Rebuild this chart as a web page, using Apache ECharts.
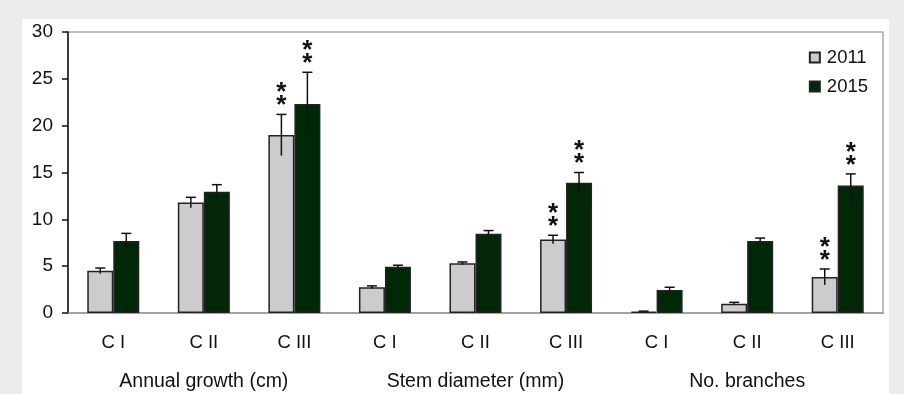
<!DOCTYPE html>
<html>
<head>
<meta charset="utf-8">
<script src="https://cdn.jsdelivr.net/npm/echarts@6/dist/echarts.min.js"></script>
<style>
  html, body { margin: 0; padding: 0; background: #ececec; }
  #panel { position: absolute; left: 22px; top: 19px; width: 867px; height: 375px; background: #fff; }
  #chart { position: absolute; left: 0; top: 0; width: 904px; height: 394px; }
</style>
</head>
<body>
<div id="panel"></div>
<div id="chart"></div>
<script>
// categories
const classes = ["C I", "C II", "C III", "C I", "C II", "C III", "C I", "C II", "C III"];
const groups = ["Annual growth (cm)", "Stem diameter (mm)", "No. branches"];

// means
const mean2011 = [4.5, 11.8, 19.0, 2.75, 5.3, 7.85, 0.15, 1.0, 3.85];
const mean2015 = [7.7, 12.95, 22.3, 4.95, 8.45, 13.9, 2.45, 7.7, 13.6];

// error (half length)
const err2011 = [0.3, 0.55, 2.2, 0.15, 0.15, 0.45, 0.05, 0.14, 0.85];
const err2015 = [0.8, 0.75, 3.4, 0.15, 0.35, 1.1, 0.3, 0.3, 1.25];

// significance marks (** above bar)
const sig2011 = [0, 0, 1, 0, 0, 1, 0, 0, 1];
const sig2015 = [0, 0, 1, 0, 0, 1, 0, 0, 1];

const BAR_W = 26;

function errData(mean, err) {
  return mean.map((m, i) => [i, m, err[i]]);
}
function sigData(mean, err, sig) {
  return mean.map((m, i) => [i, m + err[i], sig[i]]).filter(d => d[2]);
}

function errRender(offset) {
  return function (params, api) {
    const x = api.value(0);
    const hi = api.coord([x, api.value(1) + api.value(2)]);
    const lo = api.coord([x, api.value(1) - api.value(2)]);
    const cx = hi[0] + offset;
    const style = { stroke: "#111", lineWidth: 1.5 };
    return {
      type: "group",
      children: [
        { type: "line", shape: { x1: cx, y1: hi[1], x2: cx, y2: lo[1] }, style: style },
        { type: "line", shape: { x1: cx - 5, y1: hi[1], x2: cx + 5, y2: hi[1] }, style: style }
      ]
    };
  };
}

function sigRender(offset) {
  return function (params, api) {
    const p = api.coord([api.value(0), api.value(1)]);
    return {
      type: "text",
      x: p[0] + offset,
      y: p[1] - 2,
      style: {
        text: "*\n*",
        font: "bold 26px 'Liberation Sans', Arial, sans-serif",
        lineHeight: 13,
        fill: "#111",
        align: "center",
        verticalAlign: "bottom"
      }
    };
  };
}

const chart = echarts.init(document.getElementById("chart"));

chart.setOption({
  backgroundColor: "transparent",
  textStyle: { fontFamily: "'Liberation Sans', Arial, sans-serif" },
  grid: {
    left: 68, right: 21, top: 32, bottom: 81,
    show: true, borderColor: "#a8a8a8", borderWidth: 1.5, backgroundColor: "#fff"
  },
  legend: {
    orient: "vertical",
    right: 31,
    top: 43,
    itemWidth: 10,
    itemHeight: 10,
    itemGap: 10,
    icon: "rect",
    textStyle: { fontSize: 18.5, color: "#111", padding: [0, 0, 0, 2] },
    data: ["2011", "2015"]
  },
  xAxis: [
    {
      type: "category",
      data: classes,
      axisLine: { lineStyle: { color: "#999", width: 1.5 } },
      axisTick: { show: false },
      axisLabel: { fontSize: 18.5, color: "#111", margin: 20 }
    },
    {
      type: "category",
      data: groups,
      position: "bottom",
      offset: 40,
      axisLine: { show: false },
      axisTick: { show: false },
      axisLabel: { fontSize: 19.5, color: "#111", margin: 19 }
    }
  ],
  yAxis: {
    type: "value",
    min: 0,
    max: 30,
    interval: 5,
    splitLine: { show: false },
    axisLine: { show: true, lineStyle: { color: "#111", width: 1.5 } },
    axisTick: { show: true, length: 6, lineStyle: { color: "#111", width: 1.5 } },
    axisLabel: { fontSize: 19, color: "#111", margin: 15 }
  },
  series: [
    {
      name: "2011",
      type: "bar",
      data: mean2011,
      barWidth: BAR_W,
      barGap: "0%",
      itemStyle: { color: "#cccccc", borderColor: "#222", borderWidth: 1.5 }
    },
    {
      name: "2015",
      type: "bar",
      data: mean2015,
      barWidth: BAR_W,
      barGap: "0%",
      itemStyle: { color: "#002806", borderColor: "#222", borderWidth: 1.5 }
    },
    {
      type: "custom",
      renderItem: errRender(-BAR_W / 2),
      data: errData(mean2011, err2011),
      z: 5,
      silent: true
    },
    {
      type: "custom",
      renderItem: errRender(BAR_W / 2),
      data: errData(mean2015, err2015),
      z: 5,
      silent: true
    },
    {
      type: "custom",
      renderItem: sigRender(-BAR_W / 2),
      data: sigData(mean2011, err2011, sig2011),
      z: 5,
      silent: true
    },
    {
      type: "custom",
      renderItem: sigRender(BAR_W / 2),
      data: sigData(mean2015, err2015, sig2015),
      z: 5,
      silent: true
    }
  ]
});
</script>
</body>
</html>
